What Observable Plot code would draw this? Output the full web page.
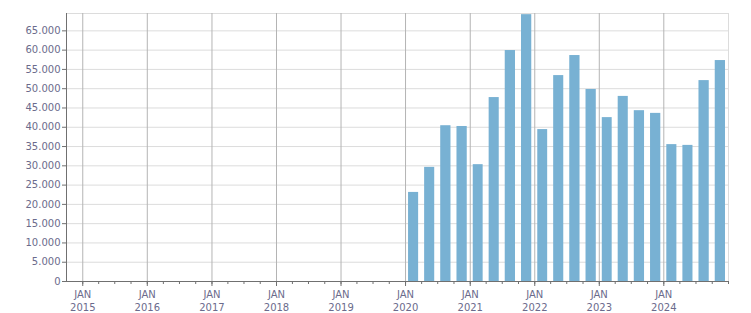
<!DOCTYPE html>
<html>
<head>
<meta charset="utf-8">
<script src="https://cdn.jsdelivr.net/npm/d3@7"></script>
<script src="https://cdn.jsdelivr.net/npm/@observablehq/plot@0.6"></script>
<style>
  html, body { margin: 0; padding: 0; background: #fff; }
  svg { display: block; }
</style>
</head>
<body>
<div id="chart"></div>
<script>
const periods = ["2020-Q1","2020-Q2","2020-Q3","2020-Q4",
                 "2021-Q1","2021-Q2","2021-Q3","2021-Q4",
                 "2022-Q1","2022-Q2","2022-Q3","2022-Q4",
                 "2023-Q1","2023-Q2","2023-Q3","2023-Q4",
                 "2024-Q1","2024-Q2","2024-Q3","2024-Q4"];
const values = [23100, 29600, 40400, 40200,
                30300, 47700, 59900, 69200,
                39400, 53400, 58600, 49800,
                42500, 48000, 44300, 43600,
                35500, 35300, 52100, 57300];
const years = [2015, 2016, 2017, 2018, 2019, 2020, 2021, 2022, 2023, 2024];
const yTicks = [0, 5000, 10000, 15000, 20000, 25000, 30000, 35000, 40000, 45000, 50000, 55000, 60000, 65000];

const qStart = (p) => {
  const [y, q] = p.split("-Q").map(Number);
  return new Date(Date.UTC(y, (q - 1) * 3, 1));
};
const data = periods.map((p, i) => {
  const s = qStart(p);
  const e = new Date(Date.UTC(s.getUTCFullYear(), s.getUTCMonth() + 3, 1));
  return {start: s, end: e, value: values[i]};
});
const jans = years.map(y => new Date(Date.UTC(y, 0, 1)));
const quarterTicks = d3.utcMonth.every(3).range(new Date(Date.UTC(2015, 0, 1)), new Date(Date.UTC(2025, 0, 2)));
const xDomain = [new Date(Date.UTC(2014, 9, 1)), new Date(Date.UTC(2025, 0, 1))];
const yMax = 69500;

const de = d3.formatLocale({decimal: ",", thousands: ".", grouping: [3], currency: ["", ""]});
const fmt = de.format(",d");
const labelColor = "#6b6b8c";

const chart = Plot.plot({
  width: 751,
  height: 313,
  marginLeft: 66,
  marginRight: 23,
  marginTop: 13,
  marginBottom: 32,
  style: {fontFamily: "DejaVu Sans, sans-serif", fontSize: "10px", background: "#fff"},
  x: {type: "utc", domain: xDomain},
  y: {domain: [0, yMax]},
  marks: [
    Plot.ruleY(yTicks.filter(d => d > 0), {stroke: "#dcdcdc", strokeWidth: 1}),
    Plot.ruleY([yMax], {stroke: "#dcdcdc", strokeWidth: 1}),
    Plot.ruleX([xDomain[1]], {stroke: "#dcdcdc", strokeWidth: 1}),
    Plot.ruleX(jans, {stroke: "#b4b4b4", strokeWidth: 1}),
    Plot.rectY(data, {x1: "start", x2: "end", y: "value", fill: "#78b1d3", insetLeft: 3, insetRight: 3}),
    Plot.ruleX([xDomain[0]], {stroke: "#707070", strokeWidth: 1}),
    Plot.ruleY([0], {stroke: "#707070", strokeWidth: 1}),
    Plot.axisY({ticks: yTicks, tickFormat: fmt, tickSize: 4, tickPadding: 2, color: labelColor, stroke: "#707070", label: null}),
    Plot.axisX({ticks: quarterTicks, tickSize: 3, tickFormat: () => "", stroke: "#707070", label: null}),
    Plot.axisX({ticks: jans, tickSize: 5, tickPadding: 3, tickFormat: d => "JAN\n" + d.getUTCFullYear(), color: labelColor, stroke: "#707070", label: null, lineHeight: 1.25})
  ]
});
document.getElementById("chart").appendChild(chart);
</script>
</body>
</html>
